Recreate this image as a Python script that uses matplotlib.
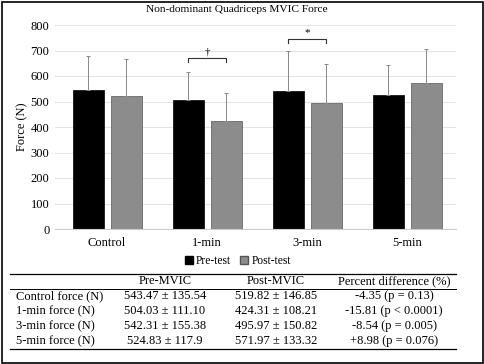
import matplotlib
matplotlib.use('Agg')
import matplotlib.pyplot as plt
from matplotlib.lines import Line2D
from matplotlib.patches import Patch, Rectangle
import numpy as np

plt.rcParams['font.family'] = 'Liberation Serif'

# data
groups = ['Control', '1-min', '3-min', '5-min']
pre_mean = [543.47, 504.03, 542.31, 524.83]
pre_sd = [135.54, 111.10, 155.38, 117.9]
post_mean = [519.82, 424.31, 495.97, 571.97]
post_sd = [146.85, 108.21, 150.82, 133.32]
sig_marks = ['', '\u2020', '*', '']
sig_heights = [0, 670, 745, 0]

row_labels = ['Control force (N)', '1-min force (N)', '3-min force (N)', '5-min force (N)']
col_labels = ['Pre-MVIC', 'Post-MVIC', 'Percent difference (%)']
pre_text = ['543.47 \u00b1 135.54', '504.03 \u00b1 111.10', '542.31 \u00b1 155.38', '524.83 \u00b1 117.9']
post_text = ['519.82 \u00b1 146.85', '424.31 \u00b1 108.21', '495.97 \u00b1 150.82', '571.97 \u00b1 133.32']
diff_text = ['-4.35 (p = 0.13)', '-15.81 (p < 0.0001)', '-8.54 (p = 0.005)', '+8.98 (p = 0.076)']

W, H = 484, 364
fig = plt.figure(figsize=(W / 100, H / 100), dpi=100)
ax = fig.add_axes([55 / W, 1 - 229 / H, (456 - 55) / W, (229 - 25) / H])

x = np.arange(len(groups))
bw = 0.31
off = 0.19
pre_c, post_c = 'black', '#8c8c8c'
ax.bar(x - off, pre_mean, bw, color=pre_c, edgecolor='black', linewidth=0.5, zorder=2)
ax.bar(x + off, post_mean, bw, color=post_c, edgecolor='#555555', linewidth=0.5, zorder=2)
ax.errorbar(x - off, pre_mean, yerr=[np.zeros(4), pre_sd], fmt='none',
            ecolor='#888888', elinewidth=0.7, capsize=1.2, capthick=0.7, zorder=3)
ax.errorbar(x + off, post_mean, yerr=[np.zeros(4), post_sd], fmt='none',
            ecolor='#888888', elinewidth=0.7, capsize=1.2, capthick=0.7, zorder=3)

# significance brackets
for i, (m, h) in enumerate(zip(sig_marks, sig_heights)):
    if not m:
        continue
    ax.plot([i - off, i - off, i + off, i + off], [h - 15, h, h, h - 15],
            color='#333333', lw=0.8, zorder=3)
    ax.text(i, h + 8, m, ha='center', va='bottom', fontsize=8)

ax.set_ylim(0, 800)
ax.set_xlim(-0.52, 3.49)
ax.set_yticks(range(0, 801, 100))
ax.set_xticks(x)
ax.set_xticklabels(groups)
ax.tick_params(length=0, labelsize=9, pad=4)
ax.tick_params(axis='x', pad=6)
ax.grid(axis='y', color='#e4e4e4', lw=0.8, zorder=0)
for s in ['top', 'right', 'left']:
    ax.spines[s].set_visible(False)
ax.spines['bottom'].set_color('#cccccc')
ax.set_ylabel('Force (N)', fontsize=9, labelpad=2)

fig.text(237 / W, 1 - 9 / H, 'Non-dominant Quadriceps MVIC Force',
         ha='center', va='center', fontsize=8.2)

handles = [Patch(facecolor=pre_c, edgecolor='black', label='Pre-test'),
           Patch(facecolor=post_c, edgecolor='#555555', label='Post-test')]
fig.legend(handles=handles, loc='center', bbox_to_anchor=(238 / W, 1 - 261 / H),
           ncol=2, frameon=False, fontsize=8.3, handlelength=0.7, handleheight=0.7,
           handletextpad=0.3, columnspacing=0.8)

# table
def fy(py):
    return 1 - py / H

for py, lw in [(274, 0.9), (289, 0.7), (349, 0.9)]:
    fig.add_artist(Line2D([10 / W, 456 / W], [fy(py), fy(py)], color='black', lw=lw))

col_x = [165, 276, 394]
for cx, lab in zip(col_x, col_labels):
    fig.text(cx / W, fy(281), lab, ha='center', va='center', fontsize=9)

row_y = [296, 311, 326, 341]
for ry, lab, a, b, c in zip(row_y, row_labels, pre_text, post_text, diff_text):
    fig.text(16 / W, fy(ry), lab, ha='left', va='center', fontsize=9)
    for cx, t in zip(col_x, [a, b, c]):
        fig.text(cx / W, fy(ry), t, ha='center', va='center', fontsize=9)

fig.add_artist(Rectangle((1.5 / W, 1.5 / H), (W - 3) / W, (H - 3) / H,
                         transform=fig.transFigure, fill=False, edgecolor='black', lw=1.2))

fig.savefig('out.png', dpi=100)
